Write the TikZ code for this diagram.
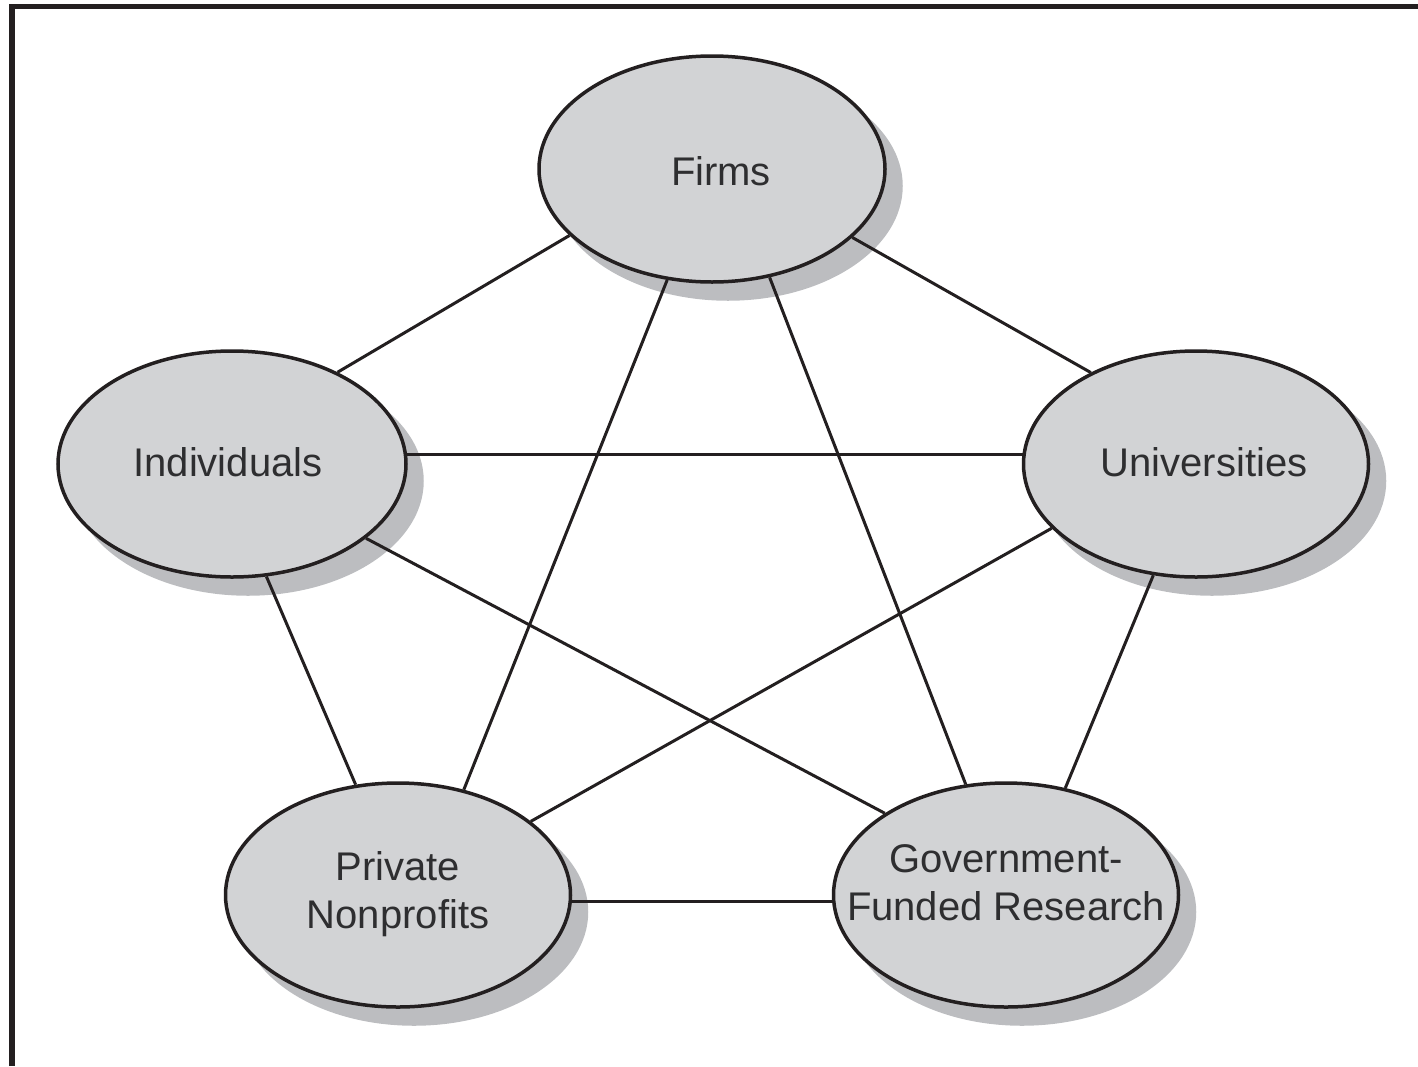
\documentclass[tikz,border=0pt]{standalone}
\usepackage{fontspec}
\setmainfont{Liberation Sans}
\usetikzlibrary{shapes.geometric,calc}

\definecolor{inkc}{HTML}{231F20}
\definecolor{bubblec}{HTML}{D2D3D5}
\definecolor{shadowc}{HTML}{BCBDC0}
\definecolor{textc}{HTML}{2E2E30}

\pgfdeclarelayer{shadow}
\pgfdeclarelayer{background}
\pgfsetlayers{shadow,background,main}

% centred label that does not enlarge its ellipse: #1 = twice the x shift, #2 = vertical shift
\newcommand\bubbletext[3]{\makebox[0pt]{\kern#1\smash{\raisebox{#2}{\begin{tabular}{@{}c@{}}#3\end{tabular}}}}}

\tikzset{
  bubble/.style={ellipse, draw=inkc, line width=1.75pt, fill=bubblec,
    inner sep=0pt, text=textc, font=\fontsize{20pt}{24pt}\selectfont},
  link/.style={draw=inkc, line width=1.5pt},
  frameline/.style={draw=inkc, line width=2.8pt}
}

\begin{document}
\begin{tikzpicture}[x=0.5pt, y=-0.5pt]
\useasboundingbox (0,0) rectangle (1418,1066);

% open frame: left and top rules
\draw[frameline] (12,1066) -- (12,6.5) -- (1418,6.5);

% the five sectors
\node[bubble, minimum width=173pt, minimum height=113pt] (firms) at (712,169)
  {\bubbletext{9pt}{-8.5pt}{Firms}};
\node[bubble, minimum width=174pt, minimum height=113pt] (ind) at (232,464)
  {\bubbletext{-4pt}{-6.5pt}{Individuals}};
\node[bubble, minimum width=172.5pt, minimum height=113pt] (uni) at (1196,464)
  {\bubbletext{8pt}{-6.5pt}{Universities}};
\node[bubble, minimum width=172.5pt, minimum height=112pt] (priv) at (398,895)
  {\bubbletext{0pt}{-5pt}{Private\\Nonprofits}};
\node[bubble, minimum width=172.5pt, minimum height=112pt] (gov) at (1006,895)
  {\bubbletext{0pt}{-1pt}{Government-\\Funded Research}};

% drop shadows to the lower right
\begin{pgfonlayer}{shadow}
  \foreach \nd in {firms,ind,uni,priv,gov}
    \fill[shadowc] let \p1=($(\nd.east)-(\nd.center)$), \p2=($(\nd.north)-(\nd.center)$) in
      ([shift={(16,17)}]\nd.center) ellipse [x radius=\x1, y radius=\y2];
\end{pgfonlayer}

% every sector linked to every other
\begin{pgfonlayer}{background}
  \draw[link] (firms.205.3) -- (ind.41.5);
  \draw[link] (firms.334.6) -- (uni.139);
  \draw[link] (firms.248.6) -- (priv.58.2);
  \draw[link] (firms.298.2) -- (gov.110);
  \draw[link] (ind.3.6) -- (ind.3.6 -| uni.center);
  \draw[link] (ind.331.8) -- (gov.146.9);
  \draw[link] (uni.204) -- (priv.29.7);
  \draw[link] (ind.287.8) -- (priv.111.7);
  \draw[link] (uni.249.2) -- (gov.61);
  \draw[link] (priv.358.4) -- (priv.358.4 -| gov.center);
\end{pgfonlayer}
\end{tikzpicture}
\end{document}
